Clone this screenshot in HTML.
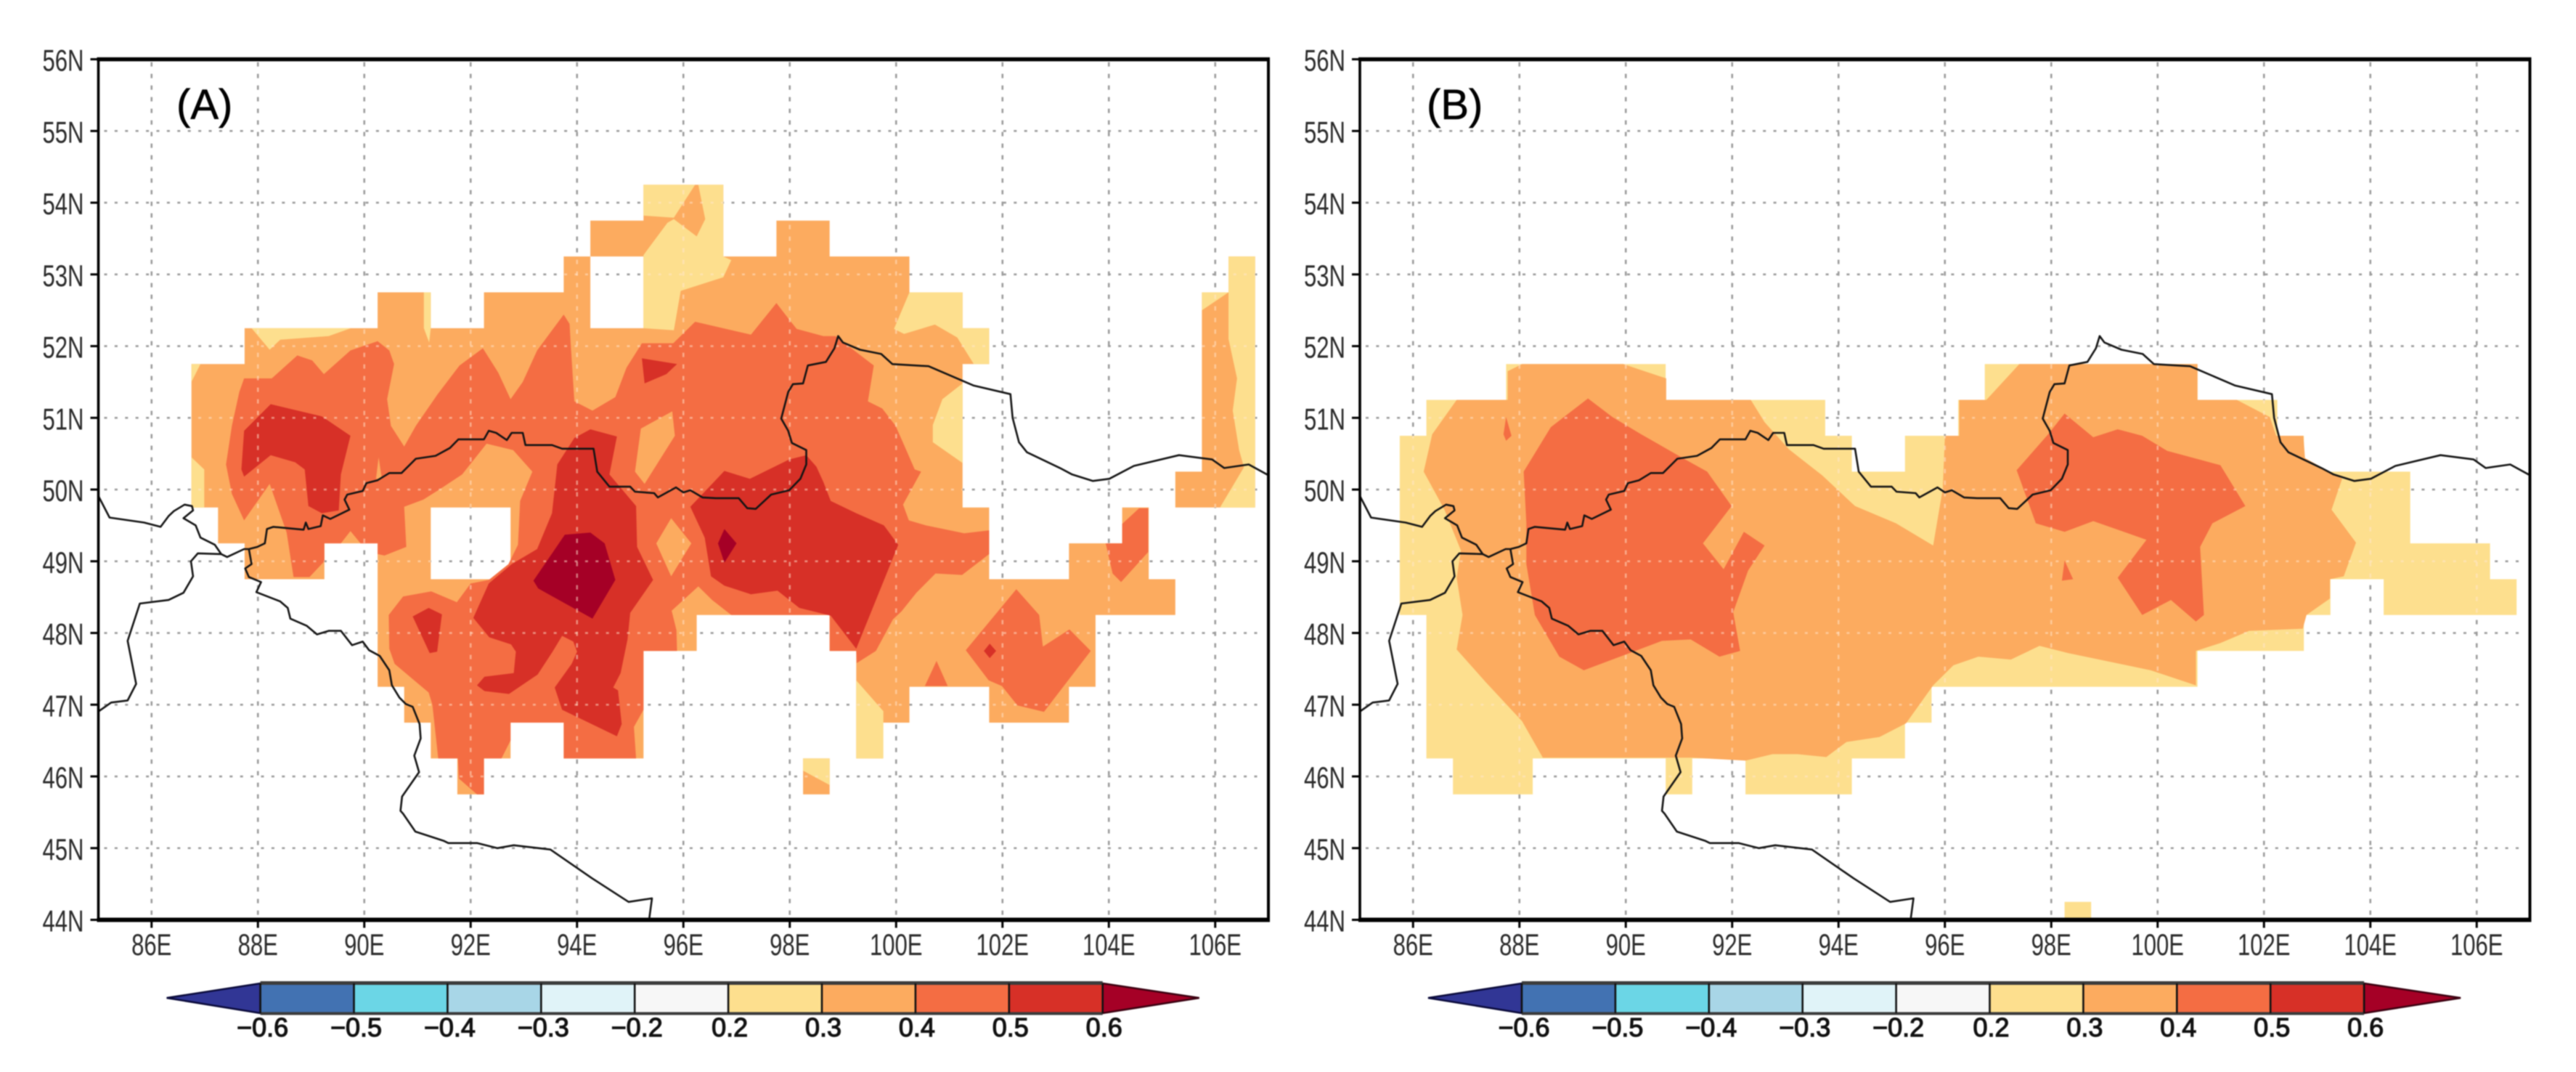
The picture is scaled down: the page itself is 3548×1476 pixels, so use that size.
<!DOCTYPE html>
<html lang="en">
<head>
<meta charset="utf-8">
<title>Correlation maps (A) and (B)</title>
<style>
html,body{margin:0;padding:0;background:#fff;}
svg{display:block;filter:blur(0.7px);}
text{font-family:"Liberation Sans",sans-serif;}
</style>
</head>
<body>
<svg id="chart" xmlns="http://www.w3.org/2000/svg" width="3548" height="1476" viewBox="0 0 3548 1476">
<rect width="3548" height="1476" fill="#ffffff"></rect>
</svg>
<script>
/* ---------- axis data ---------- */
const lonTicks=[86,88,90,92,94,96,98,100,102,104,106];
const latTicks=[44,45,46,47,48,49,50,51,52,53,54,55,56];
const colorbarLabels=["\u22120.6","\u22120.5","\u22120.4","\u22120.3","\u22120.2","0.2","0.3","0.4","0.5","0.6"];
const colorbarColors=["#313695","#4272b2","#6bd6e6","#a8d6e7","#e0f3f8","#f7f7f7","#fddf8e","#fcab5f","#f46d43","#d73027","#a50026"];

/* ---------- country borders (lon, lat) ---------- */
const borderRussiaKaz=[[85,49.91],[85.21,49.61],[85.86,49.54],[86.17,49.48],[86.32,49.63],[86.42,49.7],[86.62,49.79],[86.76,49.77],[86.78,49.71],[86.6,49.6],[86.83,49.5],[86.92,49.33],[87.19,49.23],[87.31,49.1],[87.42,49.06],[87.74,49.17],[87.83,49.17]];
const borderKazChina=[[87.31,49.1],[86.87,49.11],[86.74,49],[86.78,48.79],[86.6,48.56],[86.32,48.46],[85.78,48.41],[85.55,47.89],[85.71,47.29],[85.55,47.06],[85.24,47.03],[85.01,46.91]];
const borderChinaMongolia=[[87.83,49.17],[87.88,48.96],[87.76,48.9],[87.83,48.78],[88.06,48.71],[87.97,48.57],[88.42,48.44],[88.56,48.35],[88.61,48.2],[88.92,48.1],[89.11,47.98],[89.33,48.03],[89.56,48.03],[89.77,47.83],[89.97,47.88],[90.09,47.76],[90.29,47.68],[90.47,47.48],[90.52,47.27],[90.66,47.1],[90.78,47.01],[90.91,46.97],[91.04,46.73],[91.06,46.53],[90.94,46.29],[91.03,46.06],[90.71,45.72],[90.68,45.52],[90.73,45.48],[90.96,45.23],[91.5,45.1],[91.58,45.07],[92.12,45.07],[92.5,45],[92.81,45.04],[93.5,44.98],[94.28,44.58],[94.97,44.25],[95.41,44.3],[95.36,44.03]];
const borderRussiaMongolia=[[87.83,49.17],[87.99,49.2],[88.13,49.25],[88.17,49.45],[88.29,49.48],[88.86,49.44],[88.9,49.54],[88.95,49.45],[89.18,49.49],[89.22,49.64],[89.36,49.59],[89.72,49.72],[89.63,49.86],[89.68,49.93],[89.97,49.98],[90.04,50.09],[90.25,50.13],[90.47,50.23],[90.7,50.23],[90.97,50.43],[91.34,50.47],[91.61,50.58],[91.77,50.7],[92.25,50.7],[92.34,50.82],[92.48,50.79],[92.68,50.69],[92.77,50.79],[92.98,50.79],[93.03,50.62],[93.53,50.62],[93.72,50.57],[94.31,50.57],[94.38,50.25],[94.61,50.04],[95,50.04],[95.09,49.97],[95.45,49.95],[95.52,49.89],[95.86,50.03],[96,49.96],[96.13,49.99],[96.36,49.89],[96.61,49.88],[97.04,49.88],[97.2,49.74],[97.36,49.73],[97.65,49.93],[97.99,49.99],[98.2,50.15],[98.31,50.35],[98.31,50.55],[98.04,50.65],[97.97,50.82],[97.84,50.99],[97.97,51.36],[98.06,51.47],[98.25,51.48],[98.34,51.73],[98.68,51.78],[98.84,51.97],[98.91,52.14],[99,52.05],[99.32,51.95],[99.72,51.89],[99.93,51.75],[100.36,51.73],[100.61,51.72],[101.46,51.45],[102.15,51.33],[102.19,51],[102.31,50.66],[102.46,50.52],[103.08,50.3],[103.31,50.21],[103.7,50.12],[104.01,50.15],[104.47,50.33],[105.32,50.48],[105.94,50.42],[106.17,50.3],[106.63,50.35],[107,50.2]];

/* ---------- panel A contours (lon, lat) ---------- */
const aMaskMain=[[86.75,51.75],[87.75,51.75],[87.75,52.25],[90.25,52.25],[90.25,52.75],[91.25,52.75],[91.25,52.25],[92.25,52.25],[92.25,52.75],[93.75,52.75],[93.75,53.25],[94.25,53.25],[94.25,53.75],[95.25,53.75],[95.25,54.25],[96.75,54.25],[96.75,53.25],[97.75,53.25],[97.75,53.75],[98.75,53.75],[98.75,53.25],[100.25,53.25],[100.25,52.75],[101.25,52.75],[101.25,52.25],[101.75,52.25],[101.75,51.75],[101.25,51.75],[101.25,49.75],[101.75,49.75],[101.75,48.75],[103.25,48.75],[103.25,49.25],[104.25,49.25],[104.25,49.75],[104.75,49.75],[104.75,48.75],[105.25,48.75],[105.25,48.25],[103.75,48.25],[103.75,47.25],[103.25,47.25],[103.25,46.75],[101.75,46.75],[101.75,47.25],[100.25,47.25],[100.25,46.75],[99.75,46.75],[99.75,46.25],[99.25,46.25],[99.25,47.75],[98.75,47.75],[98.75,48.25],[96.25,48.25],[96.25,47.75],[95.25,47.75],[95.25,46.25],[93.75,46.25],[93.75,46.75],[92.75,46.75],[92.75,46.25],[92.25,46.25],[92.25,45.75],[91.75,45.75],[91.75,46.25],[91.25,46.25],[91.25,46.75],[90.75,46.75],[90.75,47.25],[90.25,47.25],[90.25,49.25],[89.25,49.25],[89.25,48.75],[87.75,48.75],[87.75,49.25],[87.25,49.25],[87.25,49.75],[86.75,49.75]];
const aMaskHoleWest=[[91.25,49.75],[92.75,49.75],[92.75,48.75],[91.25,48.75]];
const aMaskHoleNorth=[[94.25,53.25],[95.25,53.25],[95.25,52.25],[94.25,52.25]];
const aMaskIsland=[[98.25,46.25],[98.75,46.25],[98.75,45.75],[98.25,45.75]];
const aMaskEastStrip=[[105.25,50.25],[105.75,50.25],[105.75,52.75],[106.25,52.75],[106.25,53.25],[106.75,53.25],[106.75,49.75],[105.25,49.75]];

const aBand02a=[[95.25,54.25],[96.22,54.25],[95.82,53.79],[95.25,53.82]];
const aBand02b=[[96.28,54.25],[96.75,54.25],[96.75,53.25],[96.9,53.2],[96.75,52.96],[95.95,52.77],[95.82,52.22],[95.25,52.25],[95.25,53.27],[95.7,53.72],[95.82,53.77],[96.25,53.53],[96.41,53.77]];
const aBand02c=[[100.25,52.75],[101.25,52.75],[101.25,52.25],[101.75,52.25],[101.75,51.75],[101.46,51.75],[101.15,52.12],[100.73,52.3],[100.15,52.17],[99.96,52.24]];
const aBand02d=[[101.25,51.48],[100.87,51.26],[100.69,50.9],[100.69,50.66],[101.25,50.37]];
const aBand02e=[[87.88,52.25],[89.75,52.25],[89.33,52.14],[88.42,52.09],[88.22,51.95]];
const aBand02f=[[86.75,51.75],[86.92,51.75],[86.75,51.5]];
const aBand02g=[[86.75,50.45],[86.99,50.28],[86.99,49.75],[86.75,49.75]];
const aBand02h=[[91.12,52.75],[91.25,52.75],[91.25,52.25],[91.22,52.05],[91.12,52.25]];
const aBand02i=[[99.25,47.34],[99.76,46.91],[99.76,46.25],[99.25,46.25]];
const aBand02j=[[106.25,53.25],[106.75,53.25],[106.75,49.75],[106.09,49.75],[106.54,50.31],[106.45,50.55],[106.33,51.1],[106.41,51.55],[106.25,52.1]];
const aBand02k=[[105.75,52.75],[106.25,52.75],[105.75,52.5]];
const aBand02l=[[98.25,46.25],[98.75,46.25],[98.75,45.88],[98.25,46.08]];

const aBand04main=[[87.74,51.55],[88.26,51.55],[88.74,51.87],[89.02,51.8],[89.24,51.61],[89.74,51.94],[90.25,52.07],[90.47,51.94],[90.56,51.75],[90.43,51.26],[90.5,50.89],[90.75,50.6],[90.97,50.89],[91.38,51.33],[91.79,51.73],[92.23,51.97],[92.52,51.63],[92.75,51.26],[92.98,51.5],[93.25,51.94],[93.75,52.44],[93.86,52.31],[93.88,52.04],[93.95,51.23],[94.29,51.1],[94.72,51.29],[94.93,51.7],[95.22,52.04],[95.81,52.04],[96.22,52.34],[97.27,52.16],[97.75,52.6],[97.99,52.37],[98.13,52.24],[98.63,52.14],[98.86,52.14],[99.58,51.73],[99.47,51.23],[99.74,51.13],[99.99,50.89],[100.15,50.62],[100.35,50.28],[100.47,50.25],[100.13,49.79],[100.24,49.57],[100.56,49.5],[101.28,49.39],[101.75,49.43],[101.75,49.1],[101.24,48.81],[100.74,48.83],[100.38,48.56],[100.1,48.3],[99.94,48.19],[99.62,47.75],[99.26,47.58],[99.25,47.75],[98.75,47.75],[98.75,48.25],[96.9,48.25],[96.54,48.46],[96.28,48.65],[95.78,48.31],[95.87,48.04],[95.88,47.75],[95.25,47.75],[95.25,46.93],[95.07,46.69],[95.11,46.25],[93.75,46.25],[93.75,46.75],[92.75,46.75],[92.75,46.5],[92.58,46.25],[92.25,46.25],[92.25,45.75],[92.12,45.75],[91.78,45.97],[91.76,46.25],[91.39,46.25],[91.28,47],[91.21,47.17],[90.89,47.37],[90.57,47.57],[90.47,47.78],[90.46,48.25],[90.73,48.51],[91.26,48.58],[91.74,48.43],[92,48.69],[92.34,48.74],[92.71,48.96],[92.89,49.23],[92.93,49.84],[93.16,50.25],[92.8,50.55],[92.3,50.64],[91.84,50.21],[91.43,50.01],[91.11,49.86],[90.75,49.76],[90.79,49.2],[90.38,49.08],[90.25,49.1],[90.25,49.25],[89.93,49.25],[89.74,49.42],[89.56,49.25],[89.25,49.25],[89.25,49],[88.97,48.78],[88.67,48.78],[88.54,49.4],[88.22,50.08],[87.74,49.57],[87.51,49.94],[87.4,50.35],[87.51,50.89],[87.65,51.36]];
const aBand04south=[[102.26,48.61],[102.69,48.25],[102.76,47.81],[103.26,48.05],[103.66,47.75],[102.78,46.9],[102.28,46.99],[101.99,47.26],[101.74,47.34],[101.31,47.76]];
const aBand04small=[[100.76,47.61],[100.97,47.26],[100.54,47.26]];
const aBand04east=[[104.25,49.52],[104.57,49.74],[104.74,49.74],[104.74,49.13],[104.23,48.71],[104.07,48.83],[103.94,49.25],[104.25,49.25]];

const aBand03islandNorth=[[95.79,51.09],[95.84,50.75],[95.27,50.08],[95.09,50.25],[95.2,50.85]];
const aBand03islandSouth=[[95.77,49.6],[96.15,49.25],[95.77,48.79],[95.49,49.25]];
const aBand03sliver=[[90.27,50.45],[90.33,50.15],[90.22,50.15]];

const aBand05west=[[88.24,51.19],[89.2,51.02],[89.74,50.75],[89.56,50.21],[89.52,49.71],[89.2,49.67],[88.95,49.77],[88.88,50.28],[88.7,50.38],[88.24,50.48],[87.74,50.18],[87.69,50.28],[87.74,50.82]];
const aBand05central=[[94.25,50.84],[94.75,50.74],[94.61,50.21],[95.11,49.77],[95.13,49.2],[95.43,48.74],[95,48.28],[94.95,47.91],[94.82,47.44],[94.68,47.24],[94.77,47.2],[94.84,46.73],[94.75,46.56],[93.72,46.93],[93.58,47.24],[93.9,47.57],[94,47.74],[93.93,47.88],[93.72,47.96],[93.54,47.74],[93.26,47.42],[92.72,47.15],[92.26,47.19],[92.12,47.27],[92.26,47.39],[92.81,47.44],[92.85,47.74],[92.76,47.84],[92.35,47.94],[92.05,48.21],[92.34,48.69],[92.77,48.96],[93.25,49.17],[93.53,49.67],[93.63,50.35],[93.95,50.72]];
const aBand05east=[[98.31,50.48],[97.99,50.42],[97.25,50.15],[96.77,50.26],[96.54,50.08],[96.13,49.76],[96.4,49.33],[96.52,48.79],[96.77,48.66],[97.27,48.54],[97.77,48.59],[98.18,48.35],[98.77,48.24],[99.25,47.78],[100.04,49.23],[99.77,49.5],[99.25,49.67],[98.77,49.84],[98.63,50.11],[98.5,50.32]];
const aBand05north=[[95.22,51.83],[95.88,51.75],[95.68,51.61],[95.27,51.48]];
const aBand05south=[[90.91,48.23],[91.21,48.35],[91.46,48.26],[91.37,47.74],[91.23,47.72]];
const aBand05dot=[[101.76,47.85],[101.88,47.75],[101.76,47.65],[101.65,47.75]];

const aBand06large=[[93.77,49.37],[94.25,49.4],[94.52,49.25],[94.72,48.74],[94.29,48.2],[93.27,48.62],[93.18,48.73]];
const aBand06small=[[96.77,49.45],[97,49.25],[96.77,48.98],[96.65,49.25]];

/* ---------- panel B contours (lon, lat) ---------- */
const bMaskMain=[[85.75,50.75],[86.25,50.75],[86.25,51.25],[87.75,51.25],[87.75,51.75],[90.75,51.75],[90.75,51.25],[93.75,51.25],[93.75,50.75],[94.25,50.75],[94.25,50.25],[95.25,50.25],[95.25,50.75],[96.25,50.75],[96.25,51.25],[96.75,51.25],[96.75,51.75],[100.75,51.75],[100.75,51.25],[102.25,51.25],[102.25,50.75],[102.75,50.75],[102.75,50.25],[104.75,50.25],[104.75,49.25],[106.25,49.25],[106.25,48.75],[106.75,48.75],[106.75,48.25],[104.25,48.25],[104.25,48.75],[103.25,48.75],[103.25,48.25],[102.75,48.25],[102.75,47.75],[100.75,47.75],[100.75,47.25],[95.75,47.25],[95.75,46.75],[95.25,46.75],[95.25,46.25],[94.25,46.25],[94.25,45.75],[92.25,45.75],[92.25,46.25],[91.25,46.25],[91.25,45.75],[90.75,45.75],[90.75,46.25],[88.25,46.25],[88.25,45.75],[86.75,45.75],[86.75,46.25],[86.25,46.25],[86.25,48.25],[85.75,48.25]];
const bMaskIsland=[[98.25,44.25],[98.75,44.25],[98.75,44],[98.25,44]];
const bBand03=[[88.05,51.75],[89.95,51.75],[90.76,51.55],[90.76,51.25],[92.35,51.25],[92.61,50.94],[93.07,50.56],[93.69,50.2],[94.31,49.77],[95.08,49.53],[95.78,49.22],[95.96,50.01],[96,50.75],[96.27,50.75],[96.27,51.25],[96.78,51.25],[97.4,51.75],[100.75,51.75],[100.75,51.25],[101.49,51.25],[102.11,51.01],[102.23,50.75],[102.74,50.75],[102.77,50.44],[103.47,50.15],[103.27,49.72],[103.73,49.26],[103.5,48.79],[103.24,48.75],[103.24,48.48],[102.8,48.25],[102.73,48.06],[101.72,48.03],[101.18,47.86],[100.72,47.75],[100.72,47.27],[99.87,47.48],[98.32,47.72],[97.78,47.82],[97.24,47.63],[96.63,47.67],[96.16,47.55],[95.78,47.27],[95.27,46.74],[94.77,46.55],[94.15,46.48],[93.77,46.27],[93.23,46.31],[92.76,46.31],[92.25,46.22],[91.25,46.26],[88.44,46.26],[88.05,46.77],[87.36,47.32],[86.82,47.77],[86.93,48.25],[86.82,48.77],[86.9,49.15],[86.59,49.72],[86.2,50.25],[86.36,50.77],[86.82,51.25],[87.78,51.25],[87.78,51.65]];
const bBand04west=[[89.29,51.27],[89.75,51.01],[90.29,50.77],[91.07,50.44],[91.53,50.25],[91.99,49.77],[91.45,49.25],[91.84,48.89],[92.22,49.41],[92.61,49.22],[92.3,48.87],[92.02,48.29],[92.15,47.75],[91.76,47.67],[91.22,47.91],[90.68,47.89],[89.21,47.48],[88.75,47.67],[88.29,48.25],[88.13,48.96],[88.13,49.53],[88.08,50.25],[88.59,50.87]];
const bBand04east=[[98.25,51.06],[98.79,50.73],[99.25,50.84],[99.71,50.75],[100.18,50.54],[101.18,50.34],[101.65,49.77],[101.03,49.53],[100.8,49.2],[100.87,48.25],[100.72,48.16],[100.25,48.46],[99.71,48.25],[99.25,48.77],[99.79,49.3],[98.79,49.56],[98.25,49.41],[97.71,49.53],[97.35,50.27],[97.94,50.77]];
const bBand04sliverWest=[[87.75,51.01],[87.85,50.75],[87.75,50.68],[87.7,50.77]];
const bBand04sliverEast=[[98.25,49.01],[98.41,48.75],[98.2,48.73]];

/* ---------- layout ---------- */
const NS="http://www.w3.org/2000/svg";
const svg=document.getElementById("chart");
const PLOT_TOP=81.6,PLOT_BOTTOM=1266.5,PX_PER_LON=73.25;
const LON_MIN=85,LON_MAX=107,LAT_MIN=44,LAT_MAX=56;
const COLOR_02=colorbarColors[6],COLOR_03=colorbarColors[7],COLOR_04=colorbarColors[8],COLOR_05=colorbarColors[9],COLOR_06=colorbarColors[10];

function yLat(lat){return PLOT_BOTTOM-(lat-LAT_MIN)*(PLOT_BOTTOM-PLOT_TOP)/(LAT_MAX-LAT_MIN);}
function xLon(left,lon){return left+(lon-LON_MIN)*PX_PER_LON;}
function el(tag,attrs,parent){
  const e=document.createElementNS(NS,tag);
  for(const k in attrs){e.setAttribute(k,attrs[k]);}
  parent.appendChild(e);
  return e;
}
function ringPath(left,pts,close){
  let d="";
  pts.forEach(function(p,i){d+=(i?"L":"M")+xLon(left,p[0]).toFixed(1)+" "+yLat(p[1]).toFixed(1);});
  return d+(close?"Z":"");
}
function fillPoly(group,left,pts,color,name){
  const e=el("path",{d:ringPath(left,pts,true),fill:color},group);
  
  
  return e;
}
function gridLines(group,left,color,width){
  lonTicks.forEach(function(lon){
    const l=el("line",{x1:xLon(left,lon),x2:xLon(left,lon),y1:PLOT_TOP+4,y2:PLOT_BOTTOM-3,stroke:color,"stroke-width":width,"stroke-dasharray":"6 10"},group);
    
    
  });
  latTicks.slice(1,-1).forEach(function(lat){
    const l=el("line",{x1:left+8,x2:left+1611.5-8,y1:yLat(lat),y2:yLat(lat),stroke:color,"stroke-width":width,"stroke-dasharray":"4 10.4"},group);
    
    
  });
}
function squeezedText(parent,x,baseline,str,anchor,name){
  const t=el("text",{transform:"translate("+x+" "+baseline+") scale(0.74 1)","font-size":42,fill:"#2a2a2a","text-anchor":anchor},parent);
  t.textContent=str;
  
  
}

function drawPanel(cfg){
  const left=cfg.left,right=xLon(left,LON_MAX);
  const g=el("g",{},svg);
  
  

  const gridBase=el("g",{},g);
  
  
  gridLines(gridBase,left,"#9c9c9c",2.6);

  const maskD=cfg.mask.map(function(r){return ringPath(left,r,true);}).join("");
  const clip=el("clipPath",{id:cfg.id+"-clip"},g);
  el("path",{d:maskD,"clip-rule":"evenodd"},clip);

  const fills=el("g",{},g);
  
  
  const m=el("path",{d:maskD,fill:cfg.maskColor,"fill-rule":"evenodd"},fills);
  
  
  cfg.layers.forEach(function(layer){
    fillPoly(fills,left,layer.pts,layer.color,layer.name);
  });

  const gridPale=el("g",{"clip-path":"url(#"+cfg.id+"-clip)"},g);
  
  
  gridLines(gridPale,left,"rgba(255,232,210,0.5)",2.6);

  const borders=[borderRussiaKaz,borderKazChina,borderChinaMongolia,borderRussiaMongolia];
  borders.forEach(function(b){
    const p=el("path",{d:ringPath(left,b,false),fill:"none",stroke:"#141414","stroke-width":2.6,"stroke-linejoin":"round"},g);
    
    
  });

  const frame=el("g",{stroke:"#000"},g);
  
  
  el("line",{x1:left-2,x2:right+2,y1:PLOT_TOP,y2:PLOT_TOP,"stroke-width":5.5},frame);
  el("line",{x1:left-2,x2:right+2,y1:PLOT_BOTTOM,y2:PLOT_BOTTOM,"stroke-width":6},frame);
  el("line",{x1:left,x2:left,y1:PLOT_TOP,y2:PLOT_BOTTOM,"stroke-width":3.6},frame);
  el("line",{x1:right,x2:right,y1:PLOT_TOP,y2:PLOT_BOTTOM,"stroke-width":4},frame);

  latTicks.forEach(function(lat){
    const t=el("line",{x1:left-11,x2:left,y1:yLat(lat),y2:yLat(lat),stroke:"#000","stroke-width":3},g);
    
    
    squeezedText(g,left-20,yLat(lat)+16,lat+"N","end",'lat-tick-label');
  });
  lonTicks.forEach(function(lon){
    const t=el("line",{x1:xLon(left,lon),x2:xLon(left,lon),y1:PLOT_BOTTOM,y2:PLOT_BOTTOM+11,stroke:"#000","stroke-width":3},g);
    
    
    squeezedText(g,xLon(left,lon),1315,lon+"E","middle",'lon-tick-label');
  });

  const title=el("text",{x:cfg.titleX,y:164,"font-size":58,fill:"#000",stroke:"#000","stroke-width":0.6},g);
  title.textContent=cfg.title;
  
  

  drawColorbar(g,cfg.barStart,cfg.barStep);
}

function drawColorbar(parent,start,step){
  const TOP=1354,BOTTOM=1395,MID=1374,TIP=129;
  const g=el("g",{},parent);
  
  
  function cx(i){return start+i*step;}
  const leftTip=el("polygon",{points:cx(0)+","+TOP+" "+(cx(0)-TIP)+","+MID+" "+cx(0)+","+BOTTOM,fill:colorbarColors[0],stroke:"#0a0a3a","stroke-width":2.5},g);
  
  
  const last=colorbarLabels.length-1;
  const rightTip=el("polygon",{points:cx(last)+","+TOP+" "+(cx(last)+TIP+4)+","+MID+" "+cx(last)+","+BOTTOM,fill:colorbarColors[colorbarColors.length-1],stroke:"#3a0010","stroke-width":2.5},g);
  
  
  for(let i=0;i<last;i++){
    const r=el("rect",{x:cx(i),y:TOP,width:step,height:BOTTOM-TOP,fill:colorbarColors[i+1]},g);
    
    
  }
  el("line",{x1:cx(0),x2:cx(last),y1:TOP-0.5,y2:TOP-0.5,stroke:"#3c3c3c","stroke-width":5},g);
  el("line",{x1:cx(0),x2:cx(last),y1:BOTTOM+0.5,y2:BOTTOM+0.5,stroke:"#3c3c3c","stroke-width":4},g);
  colorbarLabels.forEach(function(label,i){
    const l=el("line",{x1:cx(i),x2:cx(i),y1:TOP,y2:BOTTOM,stroke:"#111","stroke-width":2.6},g);
    
    
    const anchorShift=label.charAt(0)==="\u2212"?3:2;
    const t=el("text",{x:cx(i)+anchorShift,y:1427,"font-size":36,"text-anchor":"middle",fill:"#111",stroke:"#111","stroke-width":1.2},g);
    t.textContent=label;
    
    
  });
}

drawPanel({
  id:"panel-a",name:"panel-a-map",left:135.5,title:"(A)",titleX:243,barStart:358.6,barStep:128.9,
  mask:[aMaskMain,aMaskHoleWest,aMaskHoleNorth,aMaskIsland,aMaskEastStrip],
  maskColor:COLOR_03,
  layers:[
    {pts:aBand02a,color:COLOR_02,name:'contour-0-2'},
    {pts:aBand02b,color:COLOR_02,name:'contour-0-2'},
    {pts:aBand02c,color:COLOR_02,name:'contour-0-2'},
    {pts:aBand02d,color:COLOR_02,name:'contour-0-2'},
    {pts:aBand02e,color:COLOR_02,name:'contour-0-2'},
    {pts:aBand02f,color:COLOR_02,name:'contour-0-2'},
    {pts:aBand02g,color:COLOR_02,name:'contour-0-2'},
    {pts:aBand02h,color:COLOR_02,name:'contour-0-2'},
    {pts:aBand02i,color:COLOR_02,name:'contour-0-2'},
    {pts:aBand02j,color:COLOR_02,name:'contour-0-2'},
    {pts:aBand02k,color:COLOR_02,name:'contour-0-2'},
    {pts:aBand02l,color:COLOR_02,name:'contour-0-2'},
    {pts:aBand04main,color:COLOR_04,name:'contour-0-4'},
    {pts:aBand04south,color:COLOR_04,name:'contour-0-4'},
    {pts:aBand04small,color:COLOR_04,name:'contour-0-4'},
    {pts:aBand04east,color:COLOR_04,name:'contour-0-4'},
    {pts:aBand03islandNorth,color:COLOR_03,name:'contour-0-3'},
    {pts:aBand03islandSouth,color:COLOR_03,name:'contour-0-3'},
    {pts:aBand03sliver,color:COLOR_03,name:'contour-0-3'},
    {pts:aBand05west,color:COLOR_05,name:'contour-0-5'},
    {pts:aBand05central,color:COLOR_05,name:'contour-0-5'},
    {pts:aBand05east,color:COLOR_05,name:'contour-0-5'},
    {pts:aBand05north,color:COLOR_05,name:'contour-0-5'},
    {pts:aBand05south,color:COLOR_05,name:'contour-0-5'},
    {pts:aBand05dot,color:COLOR_05,name:'contour-0-5'},
    {pts:aBand06large,color:COLOR_06,name:'contour-0-6'},
    {pts:aBand06small,color:COLOR_06,name:'contour-0-6'}
  ]
});
drawPanel({
  id:"panel-b",name:"panel-b-map",left:1873,title:"(B)",titleX:1965,barStart:2096,barStep:128.9,
  mask:[bMaskMain,bMaskIsland],
  maskColor:COLOR_02,
  layers:[
    {pts:bBand03,color:COLOR_03,name:'contour-0-3'},
    {pts:bBand04west,color:COLOR_04,name:'contour-0-4'},
    {pts:bBand04east,color:COLOR_04,name:'contour-0-4'},
    {pts:bBand04sliverWest,color:COLOR_04,name:'contour-0-4'},
    {pts:bBand04sliverEast,color:COLOR_04,name:'contour-0-4'}
  ]
});
</script>
</body>
</html>
